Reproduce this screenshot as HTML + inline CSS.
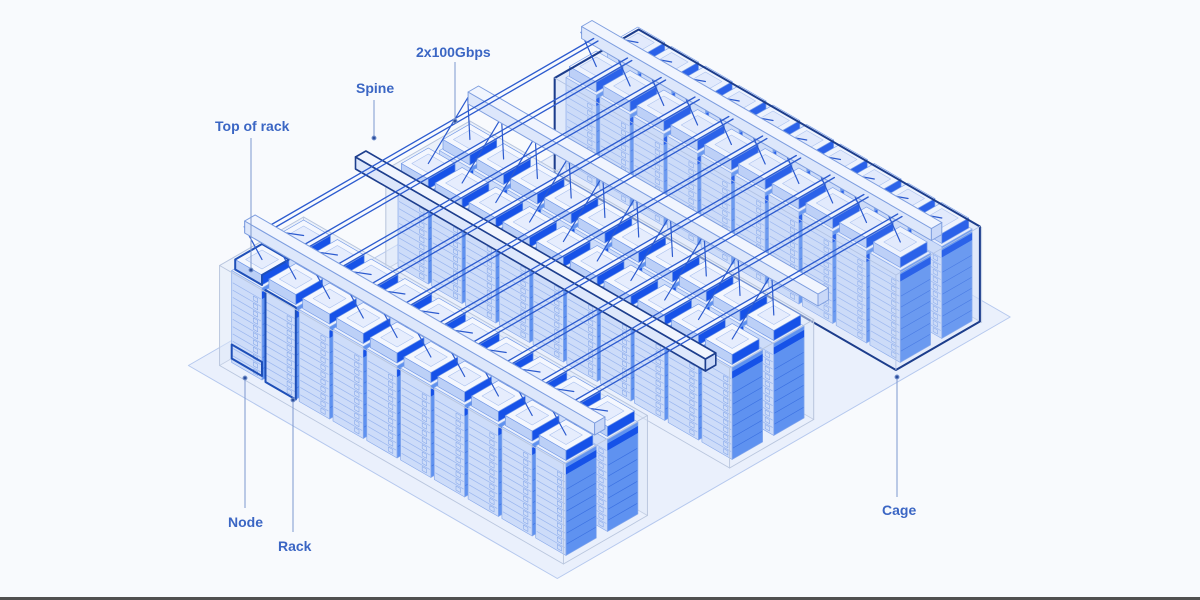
<!DOCTYPE html>
<html><head><meta charset="utf-8"><style>
html,body{margin:0;padding:0;background:#f8fafd;}
svg{display:block;}
text{font-family:"Liberation Sans",sans-serif;font-weight:bold;font-size:14px;fill:#3b66c4;}
</style></head><body>
<svg id="s" width="1200" height="600" viewBox="0 0 1200 600" xmlns="http://www.w3.org/2000/svg">
<rect width="1200" height="600" fill="#f8fafd"/>
<g id="g"></g>
<g stroke="#7d98cf" stroke-width="1" fill="#2c4f9e">
<line x1="251" y1="138" x2="251" y2="268"/><circle cx="251" cy="270" r="2"/>
<line x1="374" y1="100" x2="374" y2="136"/><circle cx="374" cy="138" r="2"/>
<line x1="455" y1="62" x2="455" y2="119"/><circle cx="455" cy="121" r="2"/>
<line x1="245" y1="380" x2="245" y2="508"/><circle cx="245" cy="378" r="2"/>
<line x1="293" y1="402" x2="293" y2="532"/><circle cx="293" cy="400" r="2"/>
<line x1="897" y1="379" x2="897" y2="497"/><circle cx="897" cy="377" r="2"/>
</g>
<text x="215" y="131">Top of rack</text>
<text x="356" y="93">Spine</text>
<text x="416" y="57">2x100Gbps</text>
<text x="228" y="527">Node</text>
<text x="278" y="551">Rack</text>
<text x="882" y="515">Cage</text>
<rect x="0" y="597" width="1200" height="3" fill="#505050"/>
</svg>
<script>
(function(){
function P(u,v,h){return [231.7+0.866*(u+v),362.5+0.5*(u-v)-h];}
var out=[];
function f(p){return p[0].toFixed(1)+','+p[1].toFixed(1);}
function poly(pts,fill,st,sw){out.push('<polygon points="'+pts.map(f).join(' ')+'" fill="'+fill+'" stroke="'+(st||'none')+'" stroke-width="'+(sw||0.8)+'" stroke-linejoin="round"/>');}
function line(a,b,st,sw){out.push('<line x1="'+a[0].toFixed(1)+'" y1="'+a[1].toFixed(1)+'" x2="'+b[0].toFixed(1)+'" y2="'+b[1].toFixed(1)+'" stroke="'+st+'" stroke-width="'+sw+'" stroke-linecap="round"/>');}
function box(u0,u1,v0,v1,h0,h1,cT,cF,cS,st,sw){
 poly([P(u0,v0,h0),P(u1,v0,h0),P(u1,v0,h1),P(u0,v0,h1)],cF,st,sw);
 poly([P(u1,v0,h0),P(u1,v1,h0),P(u1,v1,h1),P(u1,v0,h1)],cS,st,sw);
 poly([P(u0,v0,h1),P(u1,v0,h1),P(u1,v1,h1),P(u0,v1,h1)],cT,st,sw);
}
var W=35,D=35,H=92;
function rack(u0,v0,hl){
 box(u0,u0+W,v0,v0+D,0,H,'#eaf0fd','#cddcf9','#5f92f0','#88a9ea',0.7);
 for(var k=1;k<=11;k++){var h=k*7.3;
  line(P(u0+1.5,v0,h),P(u0+W-1.5,v0,h),'#9ab6ef',0.7);}
 for(var k=0;k<11;k++){var h=k*7.3+2;
  poly([P(u0+W-10,v0,h),P(u0+W-5,v0,h),P(u0+W-5,v0,h+4),P(u0+W-10,v0,h+4)],'none','#88a9ea',0.6);}
 for(var k=1;k<7;k++){var h=k*11;
  line(P(u0+W,v0+1,h),P(u0+W,v0+D-1,h),'#3a70e2',0.7);}
 poly([P(u0+W,v0,H-11),P(u0+W,v0+D,H-11),P(u0+W,v0+D,H-4),P(u0+W,v0,H-4)],'#1652e8');
 box(u0+2,u0+W-2,v0+2,v0+D-2,H+1,H+11,'#f4f7fe','#bcd0f7','#1652e8','#6f96e6',0.7);
 poly([P(u0+8,v0+8,H+11),P(u0+W-8,v0+8,H+11),P(u0+W-8,v0+D-8,H+11),P(u0+8,v0+D-8,H+11)],'#e6edfd','#a9c0ee',0.6);
 if(hl==1){
  poly([P(u0+2,v0+2,H+1),P(u0+W-2,v0+2,H+1),P(u0+W-2,v0+2,H+11),P(u0+W-2,v0+D-2,H+11),P(u0+2,v0+D-2,H+11),P(u0+2,v0+2,H+11)],'none','#1e4fb8',2);
  poly([P(u0,v0,4),P(u0+W,v0,4),P(u0+W,v0,18),P(u0,v0,18)],'none','#1e4fb8',2);
 }
 if(hl==2){
  poly([P(u0,v0,0),P(u0+W,v0,0),P(u0+W,v0,H),P(u0,v0,H)],'none','#1e4fb8',2);
 }
}
function encBack(u0,u1,v0,v1,h,fill){
 poly([P(u0,v0,0),P(u0,v1,0),P(u0,v1,h),P(u0,v0,h)],fill,'#c3cee3',0.8);
 poly([P(u0,v1,0),P(u1,v1,0),P(u1,v1,h),P(u0,v1,h)],fill,'#c3cee3',0.8);
}
function encFront(u0,u1,v0,v1,h,st,sw){
 var e=[[P(u0,v0,0),P(u0,v0,h)],[P(u1,v0,0),P(u1,v0,h)],[P(u1,v1,0),P(u1,v1,h)],
  [P(u0,v0,h),P(u1,v0,h)],[P(u1,v0,h),P(u1,v1,h)],[P(u1,v1,h),P(u0,v1,h)],[P(u0,v1,h),P(u0,v0,h)],
  [P(u0,v0,0),P(u1,v0,0)],[P(u1,v0,0),P(u1,v1,0)]];
 e.forEach(function(x){line(x[0],x[1],st,sw);});
}
poly([P(-22,-28,0),P(404,-28,0),P(404,495,0),P(-22,495,0)],'#eaf0fc','#b5c8ee',1);
var SH=140, US=18, L=404;
function row(v,isCage){
 var eh=isCage?95:100, ev0=v-10, ev1=v+87;
 encBack(-4,393,ev0,ev1,eh,isCage?'rgba(215,227,250,0.6)':'rgba(222,231,248,0.5)');
 for(var line_=1;line_>=0;line_--){
  var vv=v+line_*48;
  for(var i=0;i<10;i++){
   var hl=0; if(v==0&&line_==0){if(i==0)hl=1;if(i==1)hl=2;}
   rack(i*39,vv,hl);
  }
 }
 if(isCage){
  var e=[P(-3,376,0),P(-3,376,95),P(-3,473,95),P(391,473,95),P(391,473,0),P(391,376,0)];
  poly(e,'rgba(200,215,245,0.12)','#1c3d8c',2);
  line(P(391,376,0),P(391,376,95),'#b0c1e3',0.8);
  line(P(-3,376,95),P(391,376,95),'#b0c1e3',0.8);
  line(P(391,376,95),P(391,473,95),'#b0c1e3',0.8);
 } else encFront(-4,393,ev0,ev1,eh,'#b9c6de',0.9);
}
function torCables(v,sv){
 for(var l=0;l<2;l++){var vv=v+l*48+D/2;
  for(var i=0;i<10;i++){var uc=i*39+W/2;
   line(P(uc,vv,H+11),P(uc-6,sv+6,SH),'#2c5bcf',1.2);}}
}
function spine(vs,dark){
 box(US,US+L,vs,vs+12,SH,SH+12,'#f1f5fe','#dde7fb','#c9d8f8',dark?'#1e3f8e':'#7e9edf',dark?1.6:1);
}
row(386,true);
torCables(386,386);
row(192,false);
torCables(192,255);
row(0,false);
torCables(0,-3);
spine(386,false);spine(255,false);spine(125,true);spine(-3,false);
for(var i=0;i<10;i++){var u=32+i*39;
 line(P(u,-3,147),P(u,386,147),'#2c5bcf',1.3);
 line(P(u+5,-3,147),P(u+5,386,147),'#2c5bcf',1.3);
}
spine(-3,false);
document.getElementById('g').innerHTML=out.join('');
})();
</script>
</body></html>
